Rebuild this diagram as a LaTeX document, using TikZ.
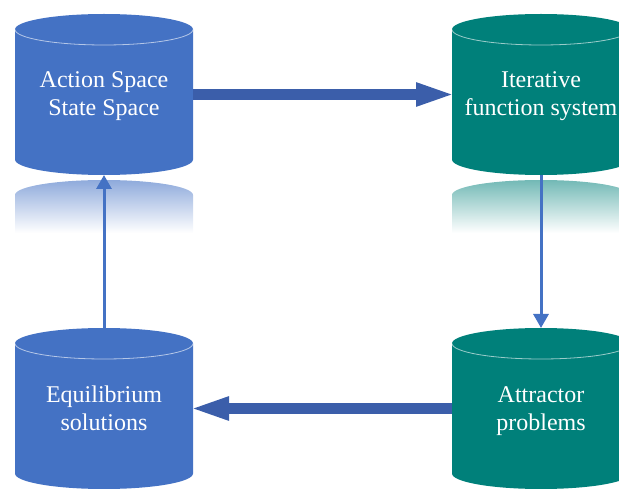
\documentclass[tikz,border=0pt]{standalone}
\usepackage{fontspec}
\setmainfont{Liberation Serif}
\usepackage{tikz}
\usetikzlibrary{positioning, arrows.meta}
\usepackage{xcolor}
\definecolor{cblue}{RGB}{68,114,196}
\definecolor{cteal}{RGB}{0,128,122}
\definecolor{ablue}{RGB}{59,94,170}

\begin{document}
\begin{tikzpicture}[x=1pt, y=1pt,
		cyl/.style={minimum width=178pt, minimum height=161pt, inner sep=0pt, outer sep=0pt,
			text=white, align=center, font=\fontsize{24}{28}\selectfont,
			text height=45pt, text depth=2pt,
			path picture={
				\fill[#1] ([yshift=-15.5pt]path picture bounding box.north west)
					-- ([yshift=15.5pt]path picture bounding box.south west)
					arc[start angle=180, end angle=360, x radius=89pt, y radius=15.5pt]
					-- ([yshift=-15.5pt]path picture bounding box.north east)
					arc[start angle=0, end angle=180, x radius=89pt, y radius=15.5pt] -- cycle;
				\draw[white, opacity=.6, line width=.8pt] ([yshift=-15.5pt]path picture bounding box.north west)
					arc[start angle=180, end angle=360, x radius=89pt, y radius=15.5pt];
			}},
		block/.style={ablue, line width=11pt, shorten >=-4pt, -{Triangle[length=40pt, width=21pt]}},
		thin/.style={cblue, line width=3pt, -{Triangle[length=14pt, width=15pt]}}]
		\useasboundingbox (0,0) rectangle (619,488);
		\clip (0,0) rectangle (619,488);
		
		% Cylinders
		\node[cyl=cblue] (state) at (104,393.5) {Action Space\\State Space};
		\node[cyl=cteal, right=259pt of state] (ifs) {Iterative\\function system};
		\node[cyl=cblue, below=153pt of state] (equi) {Equilibrium\\solutions};
		\node[cyl=cteal, right=259pt of equi] (attr) {Attractor\\problems};
		
		% Reflections
		\shade[top color=cblue!60!white, bottom color=white] ([yshift=-20pt]state.south west)
			arc[start angle=180, end angle=0, x radius=89pt, y radius=15pt]
			-- ++(0,-38) -- ([yshift=-58pt]state.south west) -- cycle;
		\shade[top color=cteal!55!white, bottom color=white] ([yshift=-20pt]ifs.south west)
			arc[start angle=180, end angle=0, x radius=89pt, y radius=15pt]
			-- ++(0,-38) -- ([yshift=-58pt]ifs.south west) -- cycle;
		
		% Arrows
		\draw[block] (state.east) -- (ifs.west);
		\draw[thin] (ifs.south) -- (attr.north);
		\draw[block] (attr.west) -- (equi.east);
		\draw[thin] (equi.north) -- (state.south);
	\end{tikzpicture}
\end{document}
